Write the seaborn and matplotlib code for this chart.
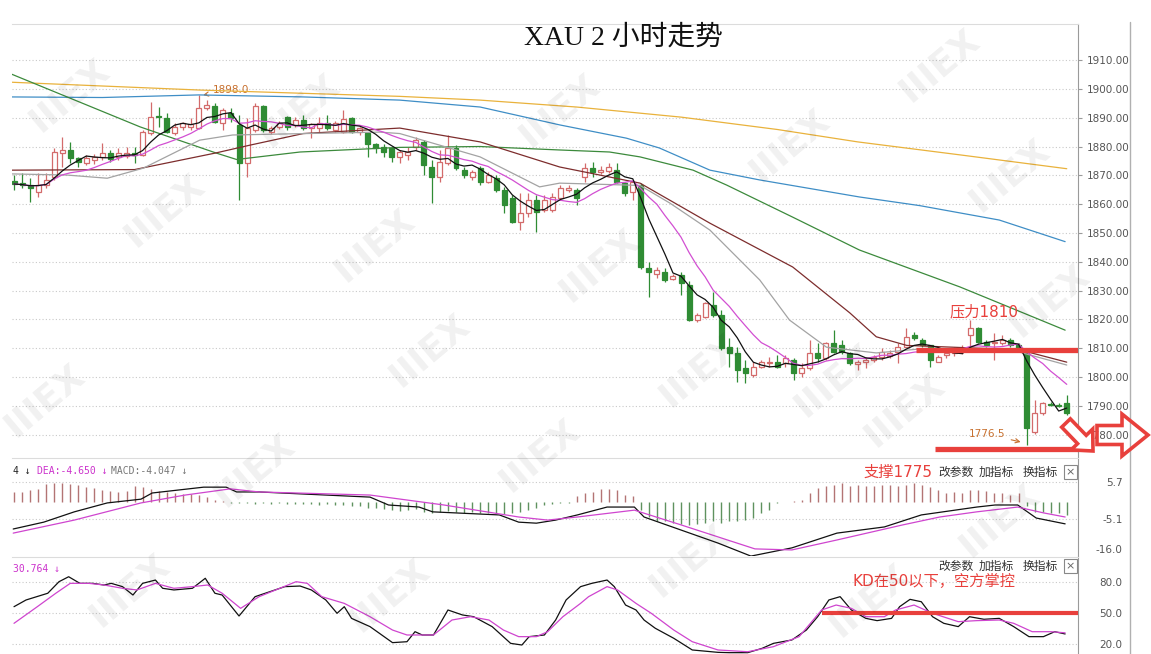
import numpy as np
import pandas as pd
import matplotlib
matplotlib.use("Agg")
import matplotlib.pyplot as plt
import seaborn as sns
from matplotlib.patches import FancyArrow
from matplotlib.lines import Line2D

sns.set_style("white")
plt.rcParams['font.family'] = ['DejaVu Sans', 'Noto Sans CJK SC']
plt.rcParams['axes.unicode_minus'] = False

# ---------------- XAU 2h candles ----------------
opens = [1868.0, 1867.3, 1866.6, 1864.2, 1866.6, 1869.4, 1877.7, 1878.8, 1876.0, 1874.3,
         1875.3, 1876.4, 1877.7, 1876.4, 1876.7, 1877.7, 1877.0, 1884.7, 1890.5, 1889.9,
         1884.7, 1886.8, 1886.8, 1886.4, 1893.3, 1894.0, 1888.1, 1891.6, 1887.5, 1874.3,
         1885.7, 1894.0, 1885.0, 1886.8, 1890.2, 1887.5, 1889.2, 1886.4, 1886.4, 1888.1,
         1885.7, 1885.0, 1889.9, 1885.0, 1884.7, 1880.9, 1880.0, 1879.5, 1876.4, 1877.0,
         1879.8, 1881.6, 1872.9, 1869.4, 1874.3, 1879.5, 1871.8, 1869.4, 1872.5, 1867.7,
         1869.0, 1864.9, 1862.1, 1853.8, 1856.9, 1861.4, 1858.0, 1858.0, 1862.1, 1864.9,
         1864.9, 1869.4, 1872.5, 1871.1, 1871.5, 1871.8, 1867.3, 1864.2, 1866.6, 1837.8,
         1835.8, 1836.5, 1834.0, 1835.4, 1832.0, 1819.8, 1820.9, 1825.0, 1821.5, 1810.4,
         1808.4, 1803.2, 1800.7, 1803.5, 1804.9, 1805.2, 1804.9, 1805.9, 1801.4, 1803.2,
         1808.4, 1806.6, 1811.8, 1811.0, 1808.4, 1804.5, 1805.2, 1806.0, 1807.0, 1807.3,
         1808.7, 1810.4, 1814.6, 1812.9, 1811.1, 1805.2, 1807.7, 1808.5, 1809.4, 1814.6,
         1817.0, 1812.2, 1812.0, 1811.8, 1812.9, 1811.1, 1808.4, 1781.0, 1787.6, 1790.6,
         1790.3, 1791.0]
highs = [1870.0, 1870.8, 1869.0, 1870.8, 1870.8, 1879.5, 1883.3, 1881.6, 1876.4, 1877.0,
         1877.5, 1881.2, 1878.8, 1879.5, 1879.8, 1879.8, 1885.7, 1895.4, 1893.7, 1891.6,
         1888.0, 1888.5, 1889.9, 1898.0, 1896.1, 1895.0, 1893.3, 1893.3, 1890.9, 1889.9,
         1895.0, 1894.4, 1887.0, 1888.8, 1890.6, 1890.2, 1890.9, 1888.1, 1890.2, 1890.9,
         1889.0, 1892.7, 1890.2, 1886.8, 1885.0, 1881.2, 1881.0, 1879.8, 1878.8, 1879.8,
         1883.3, 1882.2, 1875.3, 1878.8, 1884.0, 1880.5, 1872.9, 1871.8, 1873.2, 1871.1,
         1870.1, 1866.0, 1863.2, 1863.9, 1863.9, 1863.2, 1863.2, 1863.9, 1866.6, 1866.6,
         1865.6, 1874.3, 1874.6, 1873.2, 1874.3, 1874.3, 1867.7, 1868.4, 1867.3, 1840.0,
         1838.2, 1837.8, 1835.8, 1836.5, 1833.3, 1822.2, 1826.0, 1829.5, 1823.3, 1813.6,
         1810.4, 1806.0, 1805.2, 1806.0, 1807.0, 1807.7, 1807.7, 1806.6, 1804.9, 1812.9,
         1811.8, 1812.2, 1816.3, 1812.9, 1808.7, 1806.0, 1807.0, 1807.7, 1810.0, 1809.4,
         1811.8, 1817.0, 1815.6, 1813.6, 1811.1, 1807.7, 1809.4, 1810.5, 1811.0, 1819.8,
         1817.4, 1812.9, 1815.3, 1814.6, 1813.6, 1811.8, 1809.4, 1792.0, 1791.4, 1791.4,
         1791.0, 1793.8]
lows = [1865.0, 1865.6, 1860.7, 1862.5, 1865.6, 1868.5, 1872.9, 1874.3, 1873.0, 1873.5,
        1874.0, 1875.3, 1874.6, 1875.3, 1876.0, 1874.3, 1876.7, 1884.0, 1886.8, 1884.7,
        1884.0, 1885.7, 1885.7, 1886.0, 1892.7, 1888.0, 1885.7, 1888.5, 1861.4, 1869.4,
        1885.0, 1885.0, 1884.5, 1886.0, 1885.7, 1886.8, 1885.7, 1882.9, 1885.0, 1885.7,
        1885.0, 1884.7, 1884.7, 1884.0, 1876.4, 1877.7, 1876.4, 1874.6, 1874.3, 1875.3,
        1878.8, 1870.1, 1860.4, 1867.7, 1873.6, 1871.8, 1869.0, 1868.4, 1866.6, 1867.3,
        1864.2, 1856.9, 1853.5, 1851.0, 1855.5, 1850.3, 1857.3, 1857.3, 1861.4, 1864.2,
        1859.7, 1867.7, 1869.4, 1870.5, 1870.8, 1867.3, 1862.8, 1861.4, 1837.5, 1827.8,
        1834.4, 1833.0, 1833.7, 1828.5, 1819.5, 1819.1, 1820.5, 1820.9, 1809.4, 1803.5,
        1798.3, 1798.0, 1800.0, 1803.2, 1803.5, 1803.2, 1803.5, 1799.0, 1800.0, 1802.5,
        1805.2, 1805.9, 1808.4, 1808.0, 1804.2, 1802.5, 1803.2, 1805.2, 1806.0, 1806.6,
        1804.9, 1810.4, 1812.9, 1810.4, 1803.5, 1805.2, 1806.6, 1807.5, 1808.0, 1809.4,
        1811.8, 1810.4, 1806.0, 1811.1, 1810.4, 1809.4, 1776.5, 1780.3, 1786.9, 1790.0,
        1789.5, 1786.9]
closes = [1867.0, 1866.6, 1865.6, 1866.6, 1868.4, 1878.1, 1878.8, 1876.0, 1874.6, 1876.0,
          1876.4, 1877.7, 1875.6, 1877.7, 1877.7, 1877.0, 1885.0, 1890.2, 1890.2, 1885.0,
          1886.8, 1888.1, 1887.8, 1893.3, 1894.4, 1888.5, 1892.7, 1889.9, 1874.3, 1886.4,
          1894.0, 1885.7, 1886.4, 1888.1, 1886.8, 1889.2, 1886.4, 1887.8, 1888.1, 1886.4,
          1888.1, 1889.5, 1885.0, 1886.4, 1880.9, 1879.5, 1878.1, 1876.4, 1878.1, 1878.1,
          1882.2, 1873.6, 1869.4, 1874.6, 1879.5, 1872.5, 1870.1, 1871.1, 1867.7, 1870.1,
          1864.9, 1859.7, 1853.8, 1856.9, 1861.4, 1857.3, 1861.4, 1862.5, 1865.6, 1865.6,
          1862.1, 1872.5, 1871.1, 1871.8, 1872.9, 1867.7, 1863.9, 1867.7, 1838.2, 1836.5,
          1837.2, 1833.7, 1835.1, 1832.6, 1819.8, 1821.5, 1825.7, 1821.5, 1810.1, 1808.4,
          1802.5, 1801.4, 1803.5, 1805.2, 1805.2, 1803.5, 1806.6, 1801.4, 1803.2, 1808.4,
          1806.6, 1811.8, 1808.7, 1808.7, 1804.9, 1805.2, 1805.9, 1807.0, 1808.7, 1808.4,
          1810.4, 1813.9, 1813.6, 1811.1, 1805.9, 1807.0, 1808.4, 1809.5, 1810.0, 1817.0,
          1812.2, 1811.1, 1812.2, 1812.9, 1811.1, 1810.0, 1782.4, 1787.6, 1791.0, 1790.2,
          1790.0, 1787.6]

# longer moving averages (bar index, price)
ma20_x = [-0.3, 6.6, 11.6, 16.1, 23.1, 27.2, 45.5, 48, 58, 65.4, 67.9, 77.9, 81.6, 86.6,
          92.8, 96.5, 101.1, 107.3, 113.6, 125.1, 131]
ma20_y = [1870.5, 1870.1, 1869.0, 1872.5, 1882.2, 1884.0, 1885.0, 1884.5, 1876.4, 1866.0,
          1867.3, 1866.5, 1860.4, 1851.0, 1833.7, 1819.8, 1810.4, 1808.4, 1810.0, 1808.7, 1804.2]
ma30_x = [-0.3, 15, 25, 29.4, 36, 48, 58, 67.9, 77.9, 86.6, 96.9, 104, 107.3, 111.1, 125.1, 131]
ma30_y = [1871.8, 1872.0, 1877.7, 1880.5, 1884.5, 1886.4, 1881.6, 1872.9, 1867.3, 1853.4,
          1838.2, 1822.3, 1814.0, 1811.0, 1809.5, 1805.2]
ma60_x = [-0.3, 15.7, 25.2, 27.7, 35.6, 48, 58, 67.9, 74.1, 77.9, 84.5, 88.7, 96.9, 105.2,
          117.7, 122.6, 130.8]
ma60_y = [1905.1, 1886.8, 1877.7, 1875.5, 1878.1, 1879.7, 1880.0, 1878.8, 1878.1, 1876.4,
          1871.8, 1866.6, 1855.5, 1844.1, 1831.3, 1825.7, 1816.3]
ma120_x = [-0.3, 11, 23, 36, 48, 58, 67.9, 76.2, 80.3, 86.6, 92.8, 105.2, 112.7, 122.6, 130.8]
ma120_y = [1897.2, 1897.0, 1897.9, 1897.2, 1896.1, 1893.7, 1887.5, 1882.9, 1879.5, 1871.8,
           1868.4, 1862.5, 1859.5, 1854.5, 1847.0]
ma250_x = [-0.3, 23, 48, 58, 70, 83, 95, 105, 118, 131]
ma250_y = [1902.3, 1899.6, 1897.4, 1896.1, 1893.7, 1890.2, 1885.9, 1881.6, 1877.0, 1872.3]

# ---------------- MACD ----------------
dif_x = [-0.1, 3.7, 7.5, 11.6, 15.8, 17.2, 23.6, 26.4, 27.7, 30.5, 44.3, 46.6, 50.4, 52.1,
         60.4, 62.8, 65.0, 67.4, 70.1, 73.8, 77.2, 78.4, 83.0, 87.6, 91.7, 96.8, 102.4,
         108.3, 112.9, 119.8, 122.1, 124.9, 127.2, 130.8]
dif_y = [-8.0, -6.0, -3.0, -0.4, 0.7, 2.5, 4.2, 4.2, 2.8, 2.8, 1.3, -1.0, -1.6, -3.0,
         -3.9, -6.0, -6.3, -5.4, -3.9, -1.6, -1.6, -4.5, -8.3, -12.1, -15.9, -13.5, -9.2,
         -7.4, -3.9, -1.6, -1.0, -1.0, -4.8, -6.5]
dea_x = [-0.1, 7.5, 15.8, 21.3, 26.9, 30.5, 44.3, 53.5, 62.8, 66.4, 70.1, 77.2, 83.0, 87.6,
         92.2, 96.8, 102.4, 110.6, 115.2, 119.8, 124.9, 128.1, 130.8]
dea_y = [-9.2, -5.4, -0.4, 1.9, 3.7, 2.8, 1.9, -1.0, -4.5, -5.4, -4.5, -2.5, -6.8, -10.3,
         -13.8, -14.1, -11.2, -6.8, -4.5, -3.0, -1.6, -3.3, -4.5]
macd_hist = [2.8, 2.8, 3.4, 3.6, 5.2, 5.4, 5.4, 5.2, 4.8, 4.2, 3.9, 3.4, 3.0, 2.8, 3.2, 4.5,
             4.2, 3.6, 3.2, 2.8, 2.5, 2.2, 2.2, 1.8, 1.2, 0.6, 0.3,
             -0.3, -0.5, -0.4, -0.6, -0.5, -0.6, -0.5, -0.7, -0.6, -0.8, -0.7, -0.9, -0.8,
             -1.0, -0.9, -1.2, -1.4,
             -1.8, -2.0, -2.3, -2.5, -2.8, -2.6, -2.2, -2.9, -3.2, -3.0, -2.7, -3.1, -3.3,
             -3.0, -3.2, -3.4, -3.3, -3.5, -3.4, -3.0, -2.6, -1.8, -1.0,
             -0.8, -0.4, -0.3,
             1.5, 2.5, 2.8, 3.6, 3.6, 3.4, 1.8, 1.5,
             -2.5, -4.5, -5.7, -5.7, -6.3, -6.5, -6.8, -6.5, -6.3, -5.7, -6.3, -5.7, -5.7,
             -5.4, -4.9, -3.4, -2.5, -0.5,
             -0.2, 0.2,
             0.5, 2.5, 3.9, 4.5, 4.8, 5.4, 4.5, 4.8, 4.5, 4.5, 4.8, 4.8, 4.5, 4.8, 5.4, 4.8,
             4.2, 3.4, 2.5, 2.8, 2.5, 3.4, 3.4, 3.0, 2.5, 2.5, 1.8, 2.5,
             -1.3, -3.0, -3.0, -3.4, -3.4, -4.0]

# ---------------- KD ----------------
k_x = [0, 1.5, 4.2, 5.6, 6.8, 8.2, 9.8, 11.2, 12.1, 13.5, 14.8, 16.0, 17.6, 18.5, 19.9, 22.2,
       23.8, 25.0, 25.9, 28.0, 30.0, 33.7, 35.6, 37.0, 38.8, 40.2, 41.1, 42.0, 44.3, 47.1,
       48.9, 49.9, 50.8, 52.2, 54.0, 55.8, 57.2, 59.5, 61.8, 63.2, 64.1, 66.0, 67.4, 68.7,
       70.5, 71.9, 73.8, 74.7, 76.1, 77.4, 78.4, 79.8, 82.1, 84.4, 87.6, 89.0, 91.3, 93.1,
       94.5, 96.8, 98.6, 100.0, 101.4, 102.8, 104.2, 106.0, 107.4, 109.2, 110.2, 111.5,
       112.9, 114.3, 115.7, 117.5, 118.9, 120.7, 122.6, 124.4, 126.3, 128.1, 129.5, 130.8]
k_y = [56.1, 62.6, 69.1, 80.3, 85.1, 78.7, 78.7, 77.1, 78.7, 75.5, 67.4, 78.7, 81.9, 73.9,
       72.3, 73.9, 83.6, 69.1, 67.4, 47.1, 65.8, 75.5, 76.1, 72.3, 62.6, 49.7, 56.1, 44.8,
       36.8, 21.3, 22.2, 31.9, 28.7, 28.7, 52.9, 48.1, 46.4, 36.8, 20.6, 19.0, 27.1, 28.7,
       43.2, 62.6, 75.5, 78.7, 81.9, 75.5, 57.7, 52.9, 43.2, 35.2, 25.5, 14.2, 11.9, 11.6,
       11.6, 15.8, 20.6, 23.9, 33.5, 46.4, 62.6, 65.8, 52.9, 44.8, 42.6, 44.8, 56.1, 63.2,
       60.9, 46.4, 40.0, 36.8, 46.4, 43.9, 44.8, 36.8, 27.1, 27.1, 31.9, 29.7]
d_x = [0, 2.9, 5.2, 7.0, 9.3, 11.2, 13.5, 15.3, 17.6, 19.9, 22.2, 24.1, 25.9, 28.2, 30.5,
       35.1, 36.5, 38.3, 41.1, 44.3, 47.1, 48.9, 52.2, 54.5, 56.8, 59.1, 60.9, 62.8, 65.0,
       66.4, 68.3, 70.5, 71.5, 73.8, 75.1, 77.4, 79.3, 82.1, 84.4, 87.6, 91.3, 94.5, 97.7,
       100.5, 102.3, 104.2, 106.0, 108.3, 109.7, 112.0, 114.3, 117.5, 119.8, 122.6, 124.4,
       126.7, 129.0, 130.8]
d_y = [40.0, 56.1, 69.1, 78.7, 78.7, 77.1, 73.9, 72.3, 78.7, 73.9, 75.5, 77.1, 69.1, 54.5,
       65.8, 80.3, 78.7, 65.8, 59.3, 46.4, 33.5, 28.7, 28.7, 43.2, 46.4, 43.2, 33.5, 27.1,
       27.1, 31.9, 46.4, 59.3, 65.8, 75.5, 72.3, 59.3, 49.7, 33.5, 22.2, 14.2, 12.5, 17.4,
       27.1, 52.9, 57.7, 54.5, 46.4, 46.4, 52.9, 57.7, 49.7, 41.6, 42.6, 43.2, 40.0, 31.9,
       31.9, 30.8]

price_ticks = [1910, 1900, 1890, 1880, 1870, 1860, 1850, 1840, 1830, 1820, 1810, 1800, 1790, 1780]
resistance = 1809.5
support = 1775.0
swing_high = 1898.0
swing_low = 1776.5
kd_level = 50

UP = '#d36b6b'
DOWN = '#2f8c34'
RED = '#e8403c'
GRID = '#c9c9c9'

df = pd.DataFrame({'open': opens, 'high': highs, 'low': lows, 'close': closes})
df['idx'] = np.arange(len(df))
df['ma5'] = df['close'].rolling(5, min_periods=1).mean()
df['ma10'] = df['close'].rolling(10, min_periods=1).mean()

W, H = 1151, 654
fig = plt.figure(figsize=(W / 100, H / 100), dpi=100)
fig.patch.set_facecolor('white')


def box(left, top, right, bottom):
    return [left / W, 1 - bottom / H, (right - left) / W, (bottom - top) / H]


ax = fig.add_axes(box(12, 24, 1078, 457))
ax_macd = fig.add_axes(box(12, 458, 1078, 556))
ax_kd = fig.add_axes(box(12, 557, 1078, 654))

for a in (ax, ax_macd, ax_kd):
    a.set_xlim(-0.25, 132.4)
    a.set_xticks([])
    a.spines['left'].set_visible(False)
    a.spines['bottom'].set_visible(False)
    a.spines['top'].set_color('#dcdcdc')
    a.spines['right'].set_color('#9a9a9a')
    a.spines['top'].set_linewidth(0.8)
    a.spines['right'].set_linewidth(0.8)
    a.yaxis.tick_right()

# ---- main candle panel ----
up = df['close'] >= df['open']
body_low = df[['open', 'close']].min(axis=1)
body_h = (df['close'] - df['open']).abs().clip(lower=0.3)
ax.vlines(df['idx'][up], df['low'][up], df['high'][up], color=UP, lw=0.9, zorder=2)
ax.vlines(df['idx'][~up], df['low'][~up], df['high'][~up], color=DOWN, lw=0.9, zorder=2)
ax.bar(df['idx'][up], body_h[up], bottom=body_low[up], width=0.62,
       facecolor='white', edgecolor=UP, linewidth=0.9, zorder=3)
ax.bar(df['idx'][~up], body_h[~up], bottom=body_low[~up], width=0.62,
       facecolor=DOWN, edgecolor=DOWN, linewidth=0.9, zorder=3)


def line(axis, xs, ys, color, lw=0.9, z=4):
    sns.lineplot(x=list(xs), y=list(ys), ax=axis, color=color, linewidth=lw,
                 zorder=z, errorbar=None, sort=False)


line(ax, ma250_x, ma250_y, '#e9b23c')
line(ax, ma120_x, ma120_y, '#3f8ec6')
line(ax, ma60_x, ma60_y, '#3c8a3c')
line(ax, ma30_x, ma30_y, '#7d2d2d')
line(ax, ma20_x, ma20_y, '#a3a3a3')
line(ax, df['idx'], df['ma10'], '#d24fd2')
line(ax, df['idx'], df['ma5'], '#111111')

ax.set_ylim(1772.3, 1922.5)
ax.set_yticks(price_ticks)
ax.set_yticklabels([f'{v:.2f}' for v in price_ticks])
ax.yaxis.grid(True, linestyle=(0, (1, 2)), color=GRID, lw=0.8)
ax.tick_params(axis='y', length=3, color='#9a9a9a', labelsize=7.5, labelcolor='#555555', pad=3)
ax.set_xlabel('')
ax.set_ylabel('')

# support / resistance
ax.hlines(resistance, 112.3, 132.4, color=RED, lw=3.8, zorder=6)
ax.hlines(support, 114.6, 132.4, color=RED, lw=3.8, zorder=6)
ax.text(116.4, 1822.6, '压力1810', color=RED, fontsize=11, ha='left', va='center', zorder=7)

ax.annotate(f'{swing_high:.1f}', xy=(23.2, swing_high - 0.3), xytext=(24.7, swing_high + 1.6),
            fontsize=7.5, color='#c8702e', ha='left', va='center',
            arrowprops=dict(arrowstyle='->', color='#c8702e', lw=0.8))
ax.annotate(f'{swing_low:.1f}', xy=(125.6, swing_low + 0.8), xytext=(118.8, swing_low + 3.7),
            fontsize=7.5, color='#c8702e', ha='left', va='center', zorder=7,
            arrowprops=dict(arrowstyle='->', color='#c8702e', lw=0.8))

# ---- MACD panel ----
hist = np.array(macd_hist)
hist_colors = np.where(hist >= 0, '#b37474', '#5f925f')
ax_macd.vlines(df['idx'], 0, hist, colors=hist_colors, lw=1.0, zorder=2)
line(ax_macd, dif_x, dif_y, '#111111')
line(ax_macd, dea_x, dea_y, '#cf45cf')
ax_macd.set_ylim(-15.87, 12.7)
ax_macd.set_yticks([5.7, -5.1, -13.8])
ax_macd.set_yticklabels(['5.7', '-5.1', '-16.0'])
for v in (5.7, -5.1):
    ax_macd.axhline(v, linestyle=(0, (1, 2)), color=GRID, lw=0.8, zorder=1)

# ---- KD panel ----
line(ax_kd, k_x, k_y, '#111111')
line(ax_kd, d_x, d_y, '#cf45cf')
ax_kd.hlines(kd_level, 100.6, 132.4, color=RED, lw=3.0, zorder=6)
ax_kd.set_ylim(10.3, 104.2)
ax_kd.set_yticks([80, 50, 20])
ax_kd.set_yticklabels(['80.0', '50.0', '20.0'])
for v in (80, 50, 20):
    ax_kd.axhline(v, linestyle=(0, (1, 2)), color=GRID, lw=0.8, zorder=1)

for a in (ax_macd, ax_kd):
    a.set_xlabel('')
    a.set_ylabel('')
    a.tick_params(axis='y', length=0, labelsize=7.5, labelcolor='#555555', pad=32)
    for lab in a.get_yticklabels():
        lab.set_horizontalalignment('right')


def ftext(x, y, s, **kw):
    fig.text(x / W, 1 - y / H, s, va='center', **kw)


# title
ftext(623, 38, 'XAU 2 小时走势', ha='center', fontsize=20,
      family=['Liberation Serif', 'Noto Sans CJK SC'], color='#111111')

# indicator headers
mono = ['DejaVu Sans Mono', 'Noto Sans CJK SC']
ftext(13, 471, '4 ↓', fontsize=7, family=mono, color='#222222')
ftext(37, 471, 'DEA:-4.650 ↓', fontsize=7, family=mono, color='#cc33cc')
ftext(111, 471, 'MACD:-4.047 ↓', fontsize=7, family=mono, color='#777777')
ftext(13, 569, '30.764 ↓', fontsize=7, family=mono, color='#cc33cc')

ftext(864, 472, '支撑1775', fontsize=11, color=RED)
ftext(853, 581, 'KD在50以下，空方掌控', fontsize=11, color=RED)
for yy in (472, 566):
    for xx, word in ((938, '改参数'), (979, '加指标'), (1023, '换指标')):
        ftext(xx, yy, word, fontsize=8.5, color='#333333')
    fig.text(1070.5 / W, 1 - yy / H, '×', ha='center', va='center', fontsize=8, color='#666666',
             bbox=dict(boxstyle='square,pad=0.15', fc='white', ec='#888888', lw=0.8))

# outer frame line on the right
fig.add_artist(Line2D([1130 / W, 1130 / W], [1 - 22 / H, 0], color='#b0b0b0', lw=1.0))

# faint watermarks
for wx, wy in [(70, 95), (165, 210), (375, 245), (430, 350), (45, 400), (255, 470), (540, 455),
               (600, 265), (560, 110), (790, 145), (835, 380), (940, 65), (1010, 175),
               (1050, 300), (905, 410), (1000, 520), (130, 590), (390, 595), (690, 560),
               (870, 600), (700, 370), (300, 110)]:
    fig.text(wx / W, 1 - wy / H, 'IIIEX', rotation=40, ha='center', va='center', fontsize=26,
             fontweight='bold', color='#000000', alpha=0.06, zorder=20)

# hollow red arrows
tr = fig.dpi_scale_trans
fig.add_artist(FancyArrow(10.66, (H - 423) / 100, 0.27, -0.28, width=0.12, head_width=0.30,
                          head_length=0.16, length_includes_head=True, transform=tr,
                          facecolor='white', edgecolor=RED, lw=2.6, zorder=30))
fig.add_artist(FancyArrow(10.97, (H - 435) / 100, 0.51, 0.0, width=0.19, head_width=0.42,
                          head_length=0.26, length_includes_head=True, transform=tr,
                          facecolor='none', edgecolor=RED, lw=2.6, zorder=30))

fig.savefig('out.png', dpi=100, facecolor='white')
